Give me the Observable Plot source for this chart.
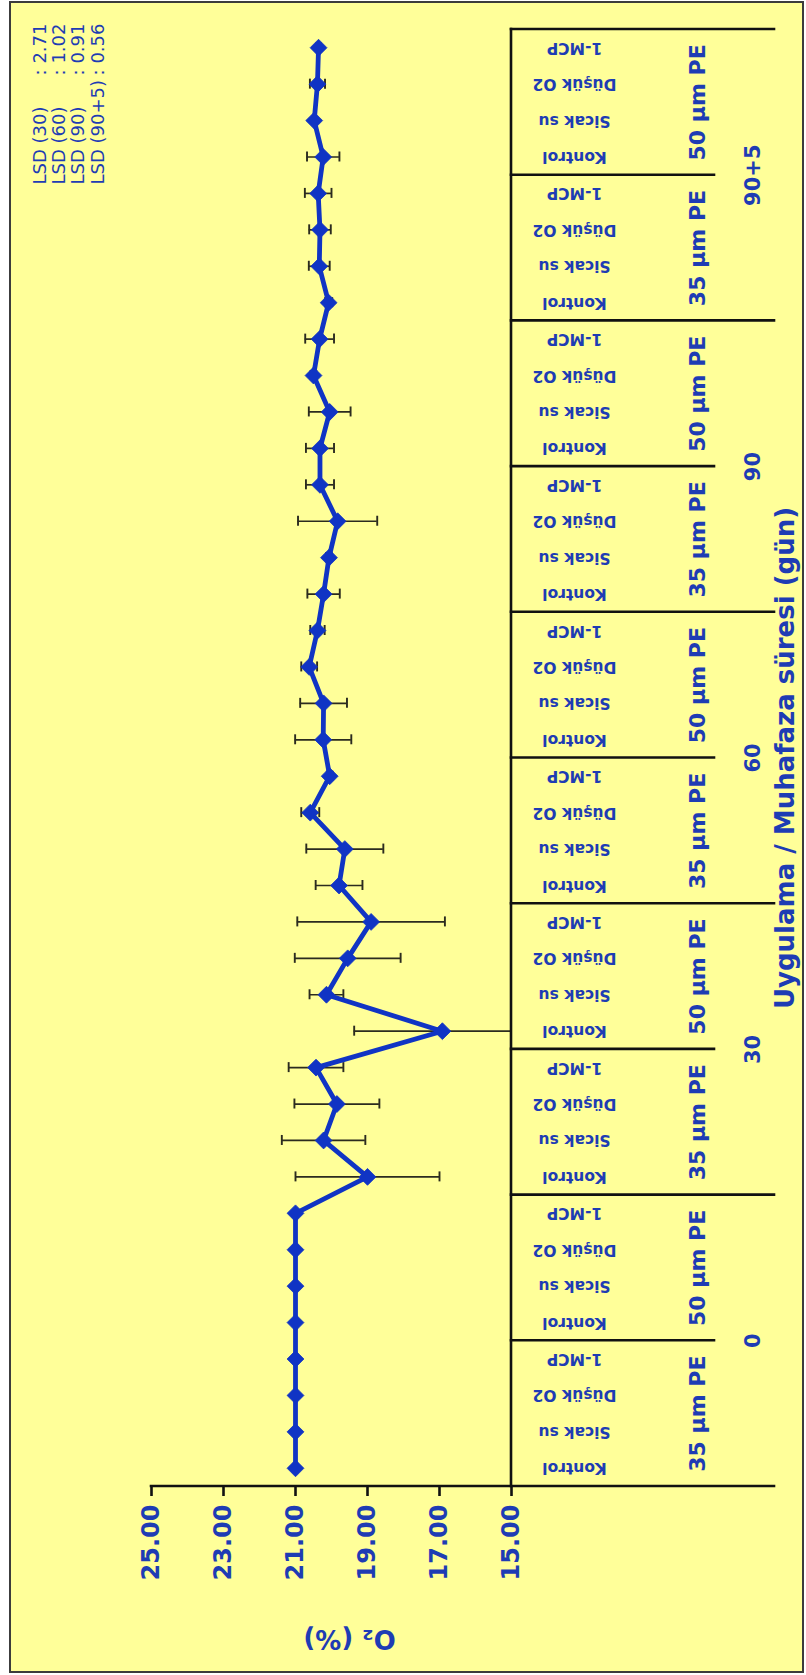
<!DOCTYPE html>
<html lang="tr">
<head>
<meta charset="utf-8">
<title>O2 (%)</title>
<script src="https://cdn.jsdelivr.net/npm/d3@7"></script>
<script src="https://cdn.jsdelivr.net/npm/@observablehq/plot@0.6"></script>
<style>
  html, body { margin: 0; padding: 0; background: #ffffff; }
  #wrap { position: relative; width: 806px; height: 1675px; overflow: hidden; }
  #panel { position: absolute; left: 9px; top: 1px; width: 795px; height: 1672px; box-sizing: border-box; background: #FFFF99; border: 2px solid #3c3c3c; }
  #chart { position: absolute; left: 0; top: 0; }
</style>
</head>
<body>
<div id="wrap"><div id="panel"></div><div id="chart"></div></div>
<script>
// ---- data ----
const days = ["0", "30", "60", "90", "90+5"];
const films = ["35 µm PE", "50 µm PE"];
const treatments = ["Kontrol", "Sicak su", "Düşük O2", "1-MCP"];
const o2Mean = [
  21.00, 21.00, 21.00, 21.00,  21.00, 21.00, 21.00, 21.00,
  19.00, 20.22, 19.85, 20.43,  16.92, 20.14, 19.55, 18.90,
  19.79, 19.63, 20.59, 20.05,  20.23, 20.22, 20.62, 20.39,
  20.22, 20.07, 19.83, 20.32,  20.32, 20.05, 20.50, 20.33,
  20.08, 20.34, 20.32, 20.37,  20.23, 20.48, 20.39, 20.36
];
const o2Err = [
  0, 0, 0, 0,  0, 0, 0, 0,
  2.00, 1.16, 1.18, 0.76,  2.45, 0.47, 1.47, 2.05,
  0.65, 1.07, 0.25, 0.08,  0.78, 0.65, 0.22, 0.20,
  0.45, 0.08, 1.10, 0.39,  0.39, 0.58, 0.08, 0.40,
  0.10, 0.29, 0.30, 0.37,  0.45, 0.05, 0.21, 0.06
];
const valueTicks = [25, 23, 21, 19, 17, 15];
const valueDomain = [25, 15];
const lsdLabels = ["LSD (30)", "LSD (60)", "LSD (90)", "LSD (90+5)"];
const lsdValues = ["2.71", "1.02", "0.91", "0.56"];
const yTitle = "O₂ (%)";
const xTitle = "Uygulama / Muhafaza süresi (gün)";

// ---- styling ----
const FONT = "DejaVu Sans, Verdana, sans-serif";
const BLUE = "#1034C4";
const TEXT = "#1E3CB4";
const ERR = "#2b2b1f";
const AXIS = "#111111";
const W = 806, H = 1675;
const M = {top: 29, bottom: 189, left: 151, right: 295};
const FILM_SEP = 203, DAY_SEP = 263;

// ---- table ----
const rows = [];
days.forEach(day => films.forEach(film => treatments.forEach(treatment => {
  const i = rows.length;
  rows.push({key: `${day}|${film}|${treatment}`, day, film, treatment, mean: o2Mean[i], err: o2Err[i]});
})));
const keysTopDown = rows.map(d => d.key).reverse();
const errRows = rows.filter(d => d.err > 0);

const yOpts = {type: "band", domain: keysTopDown, range: [M.top, H - M.bottom], padding: 0, round: false};
const bw = Plot.scale({y: yOpts}).bandwidth;
const capInset = bw / 2 - 5;

function categoryAxis(index, scales) {
  const {x, y} = scales;
  const b = y.bandwidth();
  const x15 = x(valueDomain[1]), x25 = x(valueDomain[0]);
  const g = d3.create("svg:g")
    .attr("stroke", AXIS).attr("stroke-width", 2.6).attr("stroke-linecap", "square").attr("fill", "none");
  const yBottom = y(rows[0].key) + b;
  const yTop = y(rows[rows.length - 1].key);
  g.append("line").attr("x1", x25).attr("x2", x15 + DAY_SEP).attr("y1", yBottom).attr("y2", yBottom);
  g.append("line").attr("x1", x15).attr("x2", x15).attr("y1", yTop).attr("y2", yBottom);
  rows.filter(d => d.treatment === treatments[treatments.length - 1]).forEach(d => {
    const dayEnd = d.film === films[films.length - 1];
    const yy = y(d.key);
    g.append("line").attr("x1", x15).attr("x2", x15 + (dayEnd ? DAY_SEP : FILM_SEP)).attr("y1", yy).attr("y2", yy);
  });
  return g.node();
}

const chart = Plot.plot({
  width: W, height: H,
  marginTop: M.top, marginBottom: M.bottom, marginLeft: M.left, marginRight: M.right,
  style: {background: "transparent", fontFamily: FONT, overflow: "visible"},
  x: {domain: valueDomain},
  y: {...yOpts, axis: null},
  marks: [
    Plot.ruleY(errRows, {y: "key", x1: d => d.mean - d.err, x2: d => d.mean + d.err, stroke: ERR, strokeWidth: 1.7, clip: true}),
    Plot.tickX(errRows, {y: "key", x: d => d.mean - d.err, stroke: ERR, strokeWidth: 1.9, insetTop: capInset, insetBottom: capInset, clip: true}),
    Plot.tickX(errRows, {y: "key", x: d => d.mean + d.err, stroke: ERR, strokeWidth: 1.9, insetTop: capInset, insetBottom: capInset, clip: true}),
    Plot.line(rows, {x: "mean", y: "key", stroke: BLUE, strokeWidth: 4.8, strokeLinejoin: "round"}),
    Plot.dot(rows, {x: "mean", y: "key", symbol: "diamond2", r: 7.6, fill: BLUE, stroke: BLUE, strokeWidth: 0.8}),
    Plot.axisX(valueTicks, {anchor: "bottom", tickSize: 10, tickPadding: 8, tickRotate: -90,
      tickFormat: d3.format(".2f"), color: TEXT, stroke: AXIS, strokeWidth: 2.6,
      fontSize: 24, fontWeight: "bold", fontFamily: FONT, label: null}),
    categoryAxis,
    // category labels (upside down)
    Plot.text(rows, {y: "key", text: "treatment", frameAnchor: "right", dx: 63, rotate: 180,
      textAnchor: "middle", lineAnchor: "middle", fill: TEXT, fontSize: 15.5, fontWeight: "bold", fontFamily: FONT}),
    // film labels
    Plot.text(rows.filter(d => d.treatment === treatments[2]), {y: "key", text: "film", frameAnchor: "right", dx: 186, dy: bw / 2,
      rotate: -90, textAnchor: "middle", lineAnchor: "middle", fill: TEXT, fontSize: 22, fontWeight: "bold", fontFamily: FONT,
      letterSpacing: "1.2px"}),
    // day labels
    Plot.text(rows.filter(d => d.film === films[1] && d.treatment === treatments[0]), {y: "key", text: "day", frameAnchor: "right", dx: 242, dy: bw / 2,
      rotate: -90, textAnchor: "middle", lineAnchor: "middle", fill: TEXT, fontSize: 21, fontWeight: "bold", fontFamily: FONT}),
    // category axis title
    Plot.text([xTitle], {frameAnchor: "right", dx: 274, rotate: -90, textAnchor: "middle", lineAnchor: "middle",
      fill: TEXT, fontSize: 26, fontWeight: "bold", fontFamily: FONT, letterSpacing: "1.2px"}),
    // value axis title (upside down)
    Plot.text([yTitle], {frameAnchor: "bottom", dx: 18, dy: 152, rotate: 180, textAnchor: "middle", lineAnchor: "middle",
      fill: TEXT, fontSize: 26, fontWeight: "bold", fontFamily: FONT}),
    // LSD annotation
    Plot.text([lsdLabels.join("\n")], {frameAnchor: "top-left", dx: -83, dy: 155, rotate: -90, textAnchor: "start", lineAnchor: "middle",
      lineHeight: 1.07, fill: TEXT, fontSize: 18, fontFamily: FONT}),
    Plot.text([lsdValues.map(v => ": " + v).join("\n")], {frameAnchor: "top-left", dx: -83, dy: -6, rotate: -90, textAnchor: "end", lineAnchor: "middle",
      lineHeight: 1.07, fill: TEXT, fontSize: 18, fontFamily: FONT})
  ]
});
document.getElementById("chart").appendChild(chart);
</script>
</body>
</html>
